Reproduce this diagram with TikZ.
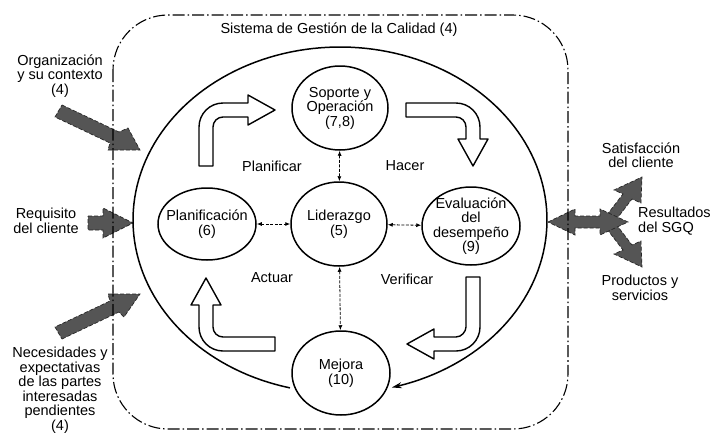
\documentclass[tikz,border=0pt]{standalone}
\usepackage{fontspec}
\setmainfont{Liberation Sans}
\usetikzlibrary{shapes.geometric,arrows.meta}
\definecolor{garrow}{HTML}{555555}
\begin{document}
\begin{tikzpicture}[x=1pt,y=-1pt,
  every node/.style={font=\fontsize{14.5}{14.5}\selectfont, align=center, inner sep=0pt},
  stage/.style={draw, ellipse, line width=1.5pt, inner sep=-14pt},
  dlink/.style={line width=0.8pt, dash pattern=on 3pt off 1.5pt, {Latex[length=5pt,width=4pt]}-{Latex[length=5pt,width=4pt]}},
  hollow/.style={draw, line width=1.4pt, fill=white, line join=round},
  grayarrow/.style={fill=garrow, draw=black!85, line width=0.7pt, dash pattern=on 4pt off 2pt},
  boundary/.style={line width=1.1pt, dash pattern=on 12pt off 3pt on 1.5pt off 3pt, rounded corners=55pt}
]
\useasboundingbox (0,0) rectangle (710,432);

% gray input / output arrows
\draw[grayarrow] (62,105) -- (119,132) -- (128,128) -- (140,150) -- (108,150) -- (110,143) -- (55,117) -- cycle;
\draw[grayarrow] (88,216) -- (103,216) -- (103,208) -- (133,223) -- (103,238) -- (103,230) -- (88,230) -- cycle;
\draw[grayarrow] (62,339) -- (119,312) -- (124,317) -- (140,294) -- (108,294) -- (110,301) -- (55,327) -- cycle;
\draw[grayarrow] (603,220) -- (623,194) -- (614,190) -- (642,177) -- (641,203) -- (632,199) -- (612,225) -- cycle;
\draw[grayarrow] (603,224) -- (623,250) -- (614,254) -- (642,267) -- (641,241) -- (632,245) -- (612,219) -- cycle;
\draw[grayarrow] (548,222) -- (575,209) -- (575,216) -- (600,216) -- (600,209) -- (628,222) -- (600,235) -- (600,228) -- (575,228) -- (575,235) -- cycle;

% system boundary
\draw[boundary] (113,15) rectangle (568,429);

% big cycle arc
\draw[line width=1.5pt, -{Stealth[length=10pt,width=6pt]}] plot[domain=104:435.5, samples=160] ({340+207*cos(\x)},{220+173*sin(\x)});

% hollow bent arrows
\draw[hollow] (199,166) -- (199,127) .. controls (199,113.75) and (209.75,103) .. (223,103) -- (248,103) -- (248,95) -- (275,110) -- (248,125) -- (248,117) -- (223,117) .. controls (217.48,117) and (213,121.48) .. (213,127) -- (213,166) -- cycle;
\draw[hollow] (406,103) -- (456,103) .. controls (469.25,103) and (480,113.75) .. (480,127) -- (480,139) -- (488,139) -- (473,166) -- (458,139) -- (466,139) -- (466,127) .. controls (466,121.48) and (461.52,117) .. (456,117) -- (406,117) -- cycle;
\draw[hollow] (480,277) -- (480,327) .. controls (480,340.25) and (469.25,351) .. (456,351) -- (434,351) -- (434,359) -- (407,344) -- (434,329) -- (434,337) -- (456,337) .. controls (461.52,337) and (466,331.52) .. (466,327) -- (466,277) -- cycle;
\draw[hollow] (275,351) -- (223,351) .. controls (209.75,351) and (199,340.25) .. (199,327) -- (199,305) -- (191,305) -- (206,278) -- (221,305) -- (213,305) -- (213,327) .. controls (213,332.48) and (217.48,337) .. (223,337) -- (275,337) -- cycle;

% stages
\node[stage, minimum width=96pt, minimum height=84pt] (sop) at (340,108) {Soporte y\\Operación\\(7,8)};
\node[stage, minimum width=98pt, minimum height=72pt] (plan) at (207,224) {Planificación\\(6)};
\node[stage, minimum width=96pt, minimum height=84pt] (lid) at (339,224) {Liderazgo\\(5)};
\node[stage, minimum width=98pt, minimum height=78pt] (eval) at (471,226) {Evaluación\\del\\desempeño\\(9)};
\node[stage, minimum width=98pt, minimum height=84pt] (mej) at (341,373) {Mejora\\(10)};

\draw[dlink] (sop) -- (lid);
\draw[dlink] (lid) -- (mej);
\draw[dlink] (plan) -- (lid);
\draw[dlink] (lid) -- (eval);

% labels
\node (planificar) at (272,166) {Planificar};
\node (hacer) at (405,166) {Hacer};
\node (actuar) at (272,278) {Actuar};
\node (verificar) at (407,279) {Verificar};
\node (sgc) at (339,30) {Sistema de Gestión de la Calidad (4)};
\node (org) at (60,76) {Organización\\y su contexto\\(4)};
\node (req) at (46,221) {Requisito\\del cliente};
\node (nec) at (60,390) {Necesidades y\\expectativas\\de las partes\\interesadas\\pendientes\\(4)};
\node (sat) at (641,155) {Satisfacción\\del cliente};
\node[anchor=west, align=left] (res) at (638,221) {Resultados\\del SGQ};
\node (prod) at (640,288) {Productos y\\servicios};
\end{tikzpicture}
\end{document}
